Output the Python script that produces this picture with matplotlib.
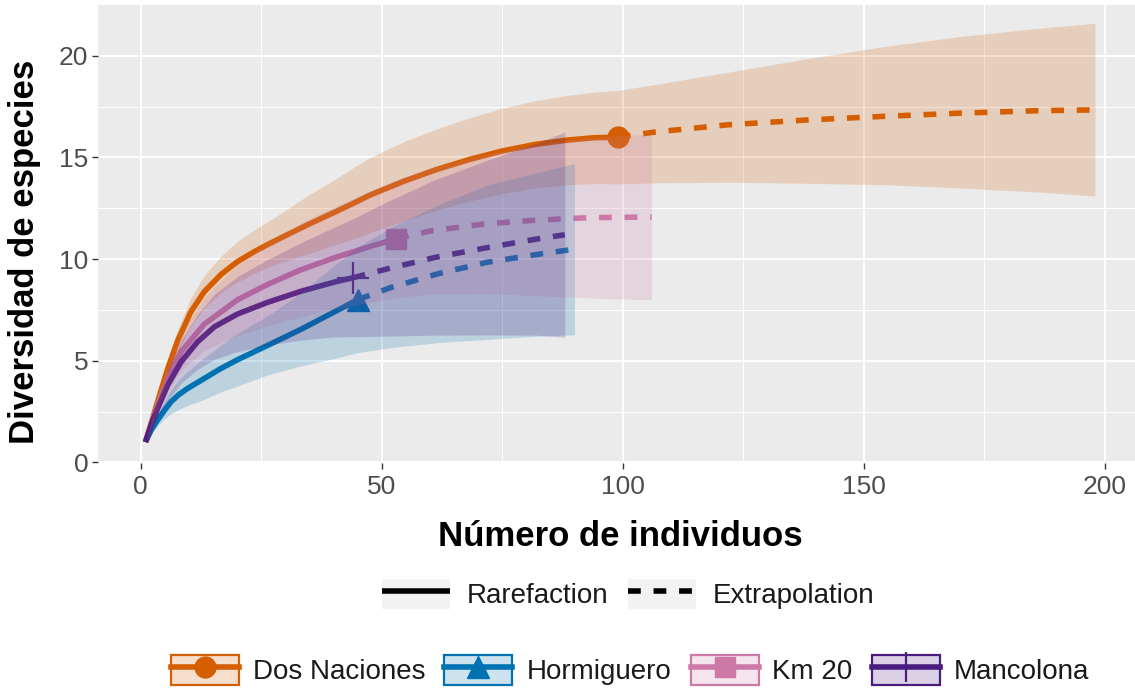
import matplotlib
matplotlib.use("Agg")
import matplotlib.pyplot as plt
from matplotlib.patches import Patch
from matplotlib.lines import Line2D
from matplotlib.legend_handler import HandlerTuple
from matplotlib.colors import to_rgba

plt.rcParams['font.family'] = ['Liberation Sans', 'DejaVu Sans']

sites = ["Dos Naciones", "Hormiguero", "Km 20", "Mancolona"]
colors = ["#D55E00", "#0072B2", "#CC79A7", "#4B1C7F"]
markers = ["o", "^", "s", "+"]

# ---- Dos Naciones ----
dn_rare_x = [1, 2.2, 3.5, 5.6, 7.7, 10.4, 13.2, 16.7, 20.1, 23.6, 26.3, 30, 35, 40, 44, 47.6, 54.5, 61.3, 68.2, 75, 81.8, 88.7, 94, 99]
dn_rare_est = [1.0, 1.95, 2.98, 4.6, 6.0, 7.4, 8.4, 9.25, 9.88, 10.37, 10.71, 11.15, 11.73, 12.28, 12.73, 13.15, 13.82, 14.4, 14.9, 15.32, 15.64, 15.86, 15.97, 16.0]
dn_rare_lo = [1.0, 1.8, 2.68, 4.15, 5.45, 6.7, 7.6, 8.35, 8.88, 9.3, 9.59, 9.9, 10.28, 10.68, 10.98, 11.3, 11.87, 12.4, 12.85, 13.22, 13.49, 13.66, 13.72, 13.7]
dn_rare_hi = [1.0, 2.1, 3.28, 5.05, 6.55, 8.1, 9.2, 10.15, 10.88, 11.44, 11.83, 12.4, 13.18, 13.88, 14.48, 15.0, 15.77, 16.4, 16.95, 17.42, 17.79, 18.06, 18.22, 18.3]
dn_ext_x = [99, 107, 122, 138, 154, 170, 186, 198]
dn_ext_est = [16.0, 16.26, 16.61, 16.84, 17.02, 17.18, 17.3, 17.34]
dn_ext_lo = [13.7, 13.75, 13.78, 13.73, 13.66, 13.5, 13.3, 13.1]
dn_ext_hi = [18.3, 18.6, 19.2, 19.85, 20.45, 20.95, 21.35, 21.6]

# ---- Hormiguero ----
ho_rare_x = [1, 2.2, 3.5, 5, 6.3, 8, 9.75, 13.2, 16.5, 20.1, 26.3, 33.3, 40, 45]
ho_rare_est = [1.0, 1.6, 2.08, 2.58, 2.98, 3.35, 3.64, 4.13, 4.6, 5.05, 5.75, 6.55, 7.38, 8.0]
ho_rare_lo = [1.0, 1.4, 1.8, 2.15, 2.4, 2.62, 2.8, 3.1, 3.45, 3.75, 4.3, 4.75, 5.1, 5.4]
ho_rare_hi = [1.0, 1.8, 2.36, 3.01, 3.56, 4.08, 4.48, 5.16, 5.75, 6.35, 7.2, 8.35, 9.66, 10.6]
ho_ext_x = [45, 52, 62, 72, 82, 90]
ho_ext_est = [8.0, 8.61, 9.3, 9.85, 10.22, 10.49]
ho_ext_lo = [5.4, 5.65, 5.9, 6.05, 6.2, 6.28]
ho_ext_hi = [10.6, 11.57, 12.7, 13.65, 14.24, 14.7]

# ---- Km 20 ----
km_rare_x = [1, 2.2, 3.5, 5.6, 8.4, 13.2, 20.1, 26.3, 33, 40, 47.6, 53]
km_rare_est = [1.0, 1.9, 2.8, 4.1, 5.45, 6.8, 8.0, 8.75, 9.45, 10.05, 10.62, 11.0]
km_rare_lo = [1.0, 1.7, 2.45, 3.5, 4.55, 5.5, 6.25, 6.7, 7.15, 7.55, 7.87, 8.1]
km_rare_hi = [1.0, 2.1, 3.15, 4.7, 6.35, 8.1, 9.75, 10.8, 11.75, 12.55, 13.37, 13.9]
km_ext_x = [53, 60, 71, 81, 91, 97, 106]
km_ext_est = [11.0, 11.38, 11.72, 11.9, 12.02, 12.05, 12.07]
km_ext_lo = [8.1, 8.28, 8.32, 8.2, 8.12, 8.05, 8.0]
km_ext_hi = [13.9, 14.48, 15.12, 15.6, 15.92, 16.05, 16.14]

# ---- Mancolona ----
ma_rare_x = [1, 2.2, 3.5, 5.6, 8.4, 11.8, 15.3, 20.1, 26.3, 33.3, 40.2, 44]
ma_rare_est = [1.0, 1.85, 2.65, 3.8, 4.95, 5.93, 6.67, 7.3, 7.87, 8.42, 8.87, 9.08]
ma_rare_lo = [1.0, 1.6, 2.2, 3.05, 3.9, 4.58, 5.07, 5.45, 5.77, 6.02, 6.17, 6.18]
ma_rare_hi = [1.0, 2.1, 3.1, 4.55, 6.0, 7.28, 8.27, 9.15, 9.97, 10.82, 11.57, 11.98]
ma_ext_x = [44, 51, 61, 72, 82, 88]
ma_ext_est = [9.08, 9.51, 10.08, 10.57, 10.98, 11.2]
ma_ext_lo = [6.18, 6.21, 6.26, 6.27, 6.26, 6.15]
ma_ext_hi = [11.98, 12.81, 13.9, 14.87, 15.7, 16.25]

data = [
    (dn_rare_x, dn_rare_est, dn_rare_lo, dn_rare_hi, dn_ext_x, dn_ext_est, dn_ext_lo, dn_ext_hi),
    (ho_rare_x, ho_rare_est, ho_rare_lo, ho_rare_hi, ho_ext_x, ho_ext_est, ho_ext_lo, ho_ext_hi),
    (km_rare_x, km_rare_est, km_rare_lo, km_rare_hi, km_ext_x, km_ext_est, km_ext_lo, km_ext_hi),
    (ma_rare_x, ma_rare_est, ma_rare_lo, ma_rare_hi, ma_ext_x, ma_ext_est, ma_ext_lo, ma_ext_hi),
]

W, H = 1135, 690
fig = plt.figure(figsize=(W / 100, H / 100), dpi=100)
px_l, px_r, px_t, px_b = 98, 1142.5, 5, 463
ax = fig.add_axes([px_l / W, 1 - px_b / H, (px_r - px_l) / W, (px_b - px_t) / H])
ax.set_facecolor('#EBEBEB')
for s in ax.spines.values():
    s.set_visible(False)
ax.set_xlim(-8.85, 207.85)
ax.set_ylim(-0.03, 22.5)
ax.set_xticks([0, 50, 100, 150, 200])
ax.set_yticks([0, 5, 10, 15, 20])
ax.set_xticks([25, 75, 125, 175], minor=True)
ax.set_yticks([2.5, 7.5, 12.5, 17.5], minor=True)
ax.grid(which='major', color='white', lw=1.4)
ax.grid(which='minor', color='white', lw=0.7)
ax.set_axisbelow(True)
ax.tick_params(which='major', length=4, width=1.0, color='#333333',
               labelsize=19, labelcolor='#4D4D4D', pad=3)
ax.tick_params(axis='x', which='major', pad=5)
ax.tick_params(which='minor', length=0)

LW = 4.0
DASH = (2.3, 2.3)
marker_sizes = {"o": 15, "^": 16, "s": 14, "+": 23}

for i, (rx, re, rl, rh, ex, ee, el, eh) in enumerate(data):
    c = colors[i]
    ax.plot(rx, re, color=c, lw=LW, solid_capstyle='butt', solid_joinstyle='round', zorder=2)
    ax.plot(ex, ee, color=c, lw=LW, dashes=DASH, dash_capstyle='butt', zorder=2)
    m = markers[i]
    if m == "+":
        ax.plot([rx[-1]], [re[-1]], marker=m, ms=marker_sizes[m], mew=1.6, color=c, zorder=3, ls='none')
    else:
        ax.plot([rx[-1]], [re[-1]], marker=m, ms=marker_sizes[m], color=c, mec=c, zorder=3, ls='none')

for i, (rx, re, rl, rh, ex, ee, el, eh) in enumerate(data):
    c = colors[i]
    xs = list(rx) + list(ex[1:])
    lo = list(rl) + list(el[1:])
    hi = list(rh) + list(eh[1:])
    ax.fill_between(xs, lo, hi, color=c, alpha=0.2, lw=0, zorder=4)

# axis titles
fig.text(620 / W, 1 - 537 / H, "Número de individuos", ha='center', va='center',
         fontsize=25, fontweight='bold', color='black')
fig.text(25 / W, 1 - 252 / H, "Diversidad de especies", ha='center', va='center',
         rotation=90, fontsize=25, fontweight='bold', color='black')

# legends
FS = 20
fs_px = FS * 100 / 72
tup = {tuple: HandlerTuple(ndivide=1, pad=0.0)}
h_rare = (Patch(facecolor='#F2F2F2', edgecolor='none'),
          Line2D([], [], color='black', lw=LW, solid_capstyle='butt'))
h_ext = (Patch(facecolor='#F2F2F2', edgecolor='none'),
         Line2D([], [], color='black', lw=LW, dashes=DASH, dash_capstyle='butt'))
leg1 = fig.legend([h_rare, h_ext], ["Rarefaction", "Extrapolation"], loc='center',
                  bbox_to_anchor=(628 / W, 1 - 594 / H), ncol=2, frameon=False, fontsize=FS,
                  handlelength=68 / fs_px, handleheight=37 / fs_px, handletextpad=0.6,
                  columnspacing=0.7, handler_map=tup)

site_handles = []
for i, c in enumerate(colors):
    m = markers[i]
    patch = Patch(facecolor=to_rgba(c, 0.2), edgecolor=c, lw=1.6)
    if m == "+":
        ln = Line2D([], [], color=c, lw=LW, marker=m, ms=21, mew=1.6)
    else:
        ln = Line2D([], [], color=c, lw=LW, marker=m, ms=marker_sizes[m], mec=c)
    site_handles.append((patch, ln))
leg2 = fig.legend(site_handles, sites, loc='center',
                  bbox_to_anchor=(630 / W, 1 - 670 / H), ncol=4, frameon=False, fontsize=FS,
                  handlelength=68 / fs_px, handleheight=37 / fs_px, handletextpad=0.5,
                  columnspacing=0.7, handler_map=tup)
for lg in (leg1, leg2):
    for t in lg.get_texts():
        t.set_color('#1A1A1A')

fig.savefig("out.png", dpi=100, facecolor='white')
